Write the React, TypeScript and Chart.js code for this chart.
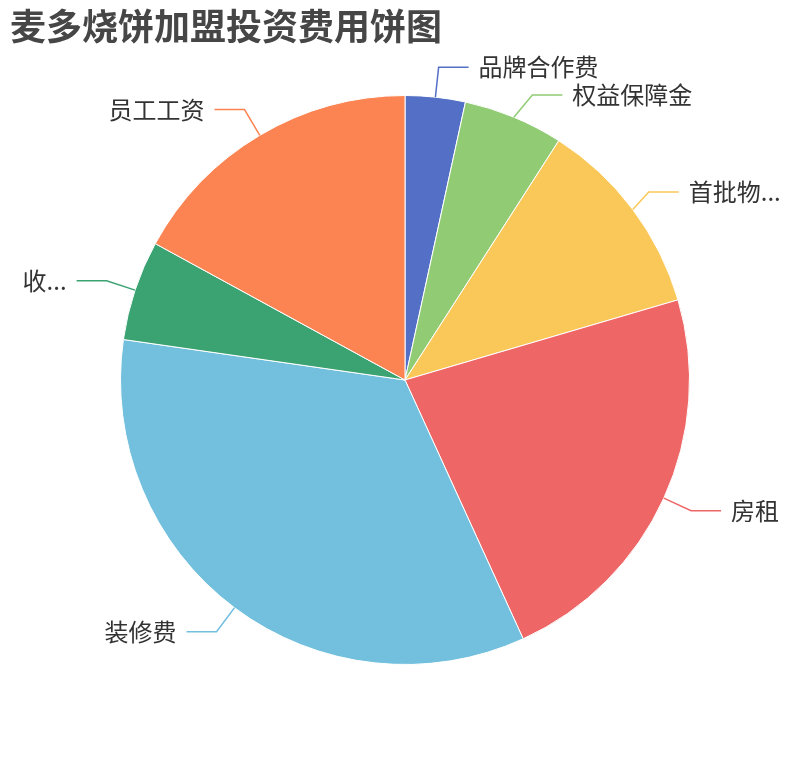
import { useEffect, useRef } from 'react'
import { Chart, registerables } from 'chart.js'

Chart.register(...registerables)

const title = '麦多烧饼加盟投资费用饼图'
const categories = ['品牌合作费', '权益保障金', '首批物...', '房租', '装修费', '收...', '员工工资']
const costs = [0.6, 1, 2, 4, 6, 1, 3]
const colors = ['#5470c6', '#91cc75', '#fac858', '#ee6666', '#73c0de', '#3ba272', '#fc8452']

const FONT = '"Noto Sans CJK SC", "Noto Sans", sans-serif'

// small elbow nudges where the labels were pushed apart (index -> [dx, dy])
const elbowNudge: Record<number, [number, number]> = {
  1: [7, 5.5],
  2: [-8, 0.5],
}

// title + echarts-like labels with two-segment leader lines
const pieLabels = {
  id: 'pieLabels',
  afterDraw(chart: Chart) {
    const ctx = chart.ctx
    ctx.save()
    ctx.fillStyle = '#464646'
    ctx.font = `bold 36px ${FONT}`
    ctx.textAlign = 'left'
    ctx.textBaseline = 'middle'
    ctx.fillText(title, 10, 26)

    const meta = chart.getDatasetMeta(0)
    meta.data.forEach((arc: any, i: number) => {
      const { x, y, startAngle, endAngle, outerRadius } = arc.getProps(
        ['x', 'y', 'startAngle', 'endAngle', 'outerRadius'],
        true
      )
      const mid = (startAngle + endAngle) / 2
      const cos = Math.cos(mid)
      const sin = Math.sin(mid)
      const nudge = elbowNudge[i] || [0, 0]
      const p0 = [x + cos * outerRadius, y + sin * outerRadius]
      const p1 = [x + cos * (outerRadius + 30) + nudge[0], y + sin * (outerRadius + 30) + nudge[1]]
      const dir = cos >= 0 ? 1 : -1
      const p2 = [p1[0] + dir * 30, p1[1]]
      ctx.strokeStyle = colors[i]
      ctx.lineWidth = 1.5
      ctx.beginPath()
      ctx.moveTo(p0[0], p0[1])
      ctx.lineTo(p1[0], p1[1])
      ctx.lineTo(p2[0], p2[1])
      ctx.stroke()

      ctx.fillStyle = '#333'
      ctx.font = `24px ${FONT}`
      ctx.textAlign = dir > 0 ? 'left' : 'right'
      ctx.textBaseline = 'middle'
      ctx.fillText(categories[i], p2[0] + dir * 10, p2[1])
    })
    ctx.restore()
  },
}

const App = () => {
  const canvasRef = useRef<HTMLCanvasElement>(null)

  useEffect(() => {
    document.body.style.margin = '0'
    const chart = new Chart(canvasRef.current!, {
      type: 'pie',
      data: {
        labels: categories,
        datasets: [
          {
            data: costs,
            backgroundColor: colors,
            borderColor: '#fff',
            borderWidth: 1,
          },
        ],
      },
      options: {
        animation: false,
        responsive: false,
        layout: {
          padding: { left: 120, right: 120, top: 95, bottom: 95 },
        },
        plugins: {
          legend: { display: false },
          tooltip: { enabled: false },
        },
      },
      plugins: [pieLabels],
    })

    return () => chart.destroy()
  }, [])

  return (
    <div style={{ width: 810, height: 760 }}>
      <canvas ref={canvasRef} width={810} height={760}></canvas>
    </div>
  )
}

export default App
